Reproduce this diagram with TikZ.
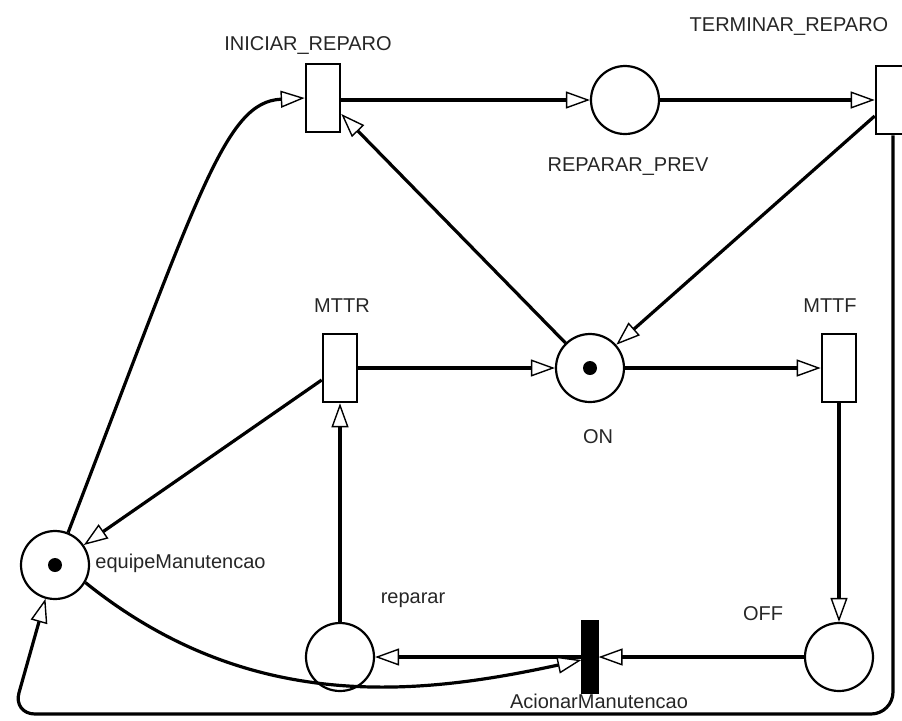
\documentclass[tikz,border=0pt]{standalone}
\usepackage{fontspec}
\setmainfont{Liberation Sans}
\usetikzlibrary{arrows.meta}
\begin{document}
\begin{tikzpicture}[x=0.5pt,y=-0.5pt,
  place/.style={circle,draw,line width=1.1pt,minimum size=34pt,inner sep=0pt},
  trans/.style={rectangle,draw,line width=1.3pt,minimum width=17pt,minimum height=34pt,inner sep=0pt},
  bar/.style={rectangle,draw,fill=black,line width=0.6pt,minimum width=8pt,minimum height=36pt,inner sep=0pt},
  tok/.style={circle,fill=black,minimum size=7pt,inner sep=0pt},
  lbl/.style={font=\fontsize{10}{12}\selectfont,text=black!85,inner sep=0pt},
  arc/.style={line width=1.6pt,-{Triangle[open,fill=white,length=12pt,width=8.5pt,line width=0.7pt]}}
]
\useasboundingbox (0,0) rectangle (902,720);
% places
\node[place] (rp) at (625,100) {};
\node[place] (on) at (590,368) {};
\node[tok] (ontok) at (590,368) {};
\node[place] (eq) at (55,565) {};
\node[tok] (eqtok) at (55,565) {};
\node[place] (rep) at (340,657) {};
\node[place] (off) at (839,657) {};
% transitions
\node[trans] (ir) at (323,98) {};
\node[trans] (tr) at (893,100) {};
\node[trans] (mttr) at (340,368) {};
\node[trans] (mttf) at (839,368) {};
\node[bar] (ac) at (590,657) {};
% labels
\node[lbl] (lir) at (308,45) {INICIAR\_REPARO};
\node[lbl] (lrp) at (628,167) {REPARAR\_PREV};
\node[lbl] (ltr) at (789,26) {TERMINAR\_REPARO};
\node[lbl] (lmttr) at (342,306) {MTTR};
\node[lbl] (lmttf) at (830,306) {MTTF};
\node[lbl] (lon) at (598,437) {ON};
\node[lbl,anchor=west] (leq) at (95,563) {equipeManutencao};
\node[lbl] (lrep) at (413,600) {reparar};
\node[lbl] (loff) at (763,614) {OFF};
\node[lbl] (lac) at (599,701) {AcionarManutencao};
% arcs
\draw[arc] (ir.east |- rp) -- (rp);
\draw[arc] (rp) -- (tr.west |- rp);
\draw[arc] ([yshift=-8pt]tr.west) -- (on);
\draw[arc] (on) -- ([yshift=-8pt]ir.east);
\draw[arc] (mttr) -- (on);
\draw[arc] (on) -- (mttf);
\draw[arc] (mttf) -- (off);
\draw[arc] (off) -- (ac);
\draw[arc] (ac) -- (rep);
\draw[arc] (rep) -- (mttr);
\draw[arc] ([yshift=-6pt]mttr.west) -- (eq);
\draw[arc] (eq.68) .. controls (200,190) and (225,102) .. (ir.west);
\draw[arc] (eq.-30) .. controls (250,715) and (420,695) .. ([yshift=-1.5pt]ac.west);
\draw[arc,rounded corners=11pt] (tr.south) -- (893,714) -- (13,714) -- (eq);
\end{tikzpicture}
\end{document}
